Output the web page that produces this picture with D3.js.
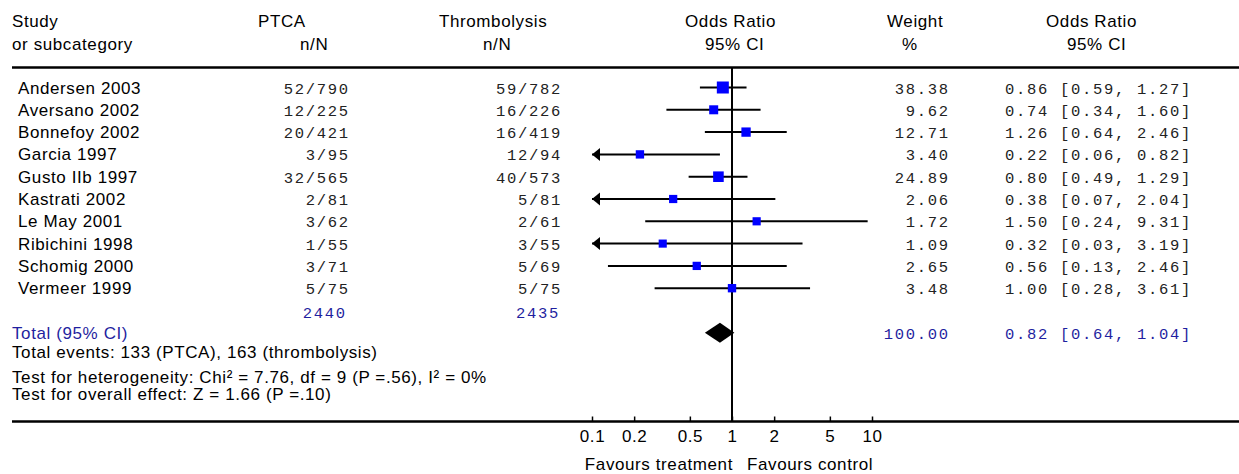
<!DOCTYPE html>
<html>
<head>
<meta charset="utf-8">
<script src="https://cdnjs.cloudflare.com/ajax/libs/d3/7.8.5/d3.min.js"></script>
<style>
  body { margin: 0; background: #fff; }
  svg { display: block; }
  .sans { font-family: "Liberation Sans", Arial, sans-serif; font-size: 17px; letter-spacing: 0.6px; }
  .mono { font-family: "Liberation Mono", "Courier New", monospace; font-size: 15.5px; letter-spacing: 1.7px; fill: #222; }
  .blue { fill: #1f1fa0; }
</style>
</head>
<body>
<svg id="chart"></svg>
<script>
'use strict';
(function() {
  // study rows
  var studies = ["Andersen 2003", "Aversano 2002", "Bonnefoy 2002", "Garcia 1997", "Gusto IIb 1997",
    "Kastrati 2002", "Le May 2001", "Ribichini 1998", "Schomig 2000", "Vermeer 1999"];
  var ptca = ["52/790", "12/225", "20/421", "3/95", "32/565", "2/81", "3/62", "1/55", "3/71", "5/75"];
  var thrombolysis = ["59/782", "16/226", "16/419", "12/94", "40/573", "5/81", "2/61", "3/55", "5/69", "5/75"];
  var weights = [38.38, 9.62, 12.71, 3.40, 24.89, 2.06, 1.72, 1.09, 2.65, 3.48];
  var oddsRatio = [0.86, 0.74, 1.26, 0.22, 0.80, 0.38, 1.50, 0.32, 0.56, 1.00];
  var ciLower = [0.59, 0.34, 0.64, 0.06, 0.49, 0.07, 0.24, 0.03, 0.13, 0.28];
  var ciUpper = [1.27, 1.60, 2.46, 0.82, 1.29, 2.04, 9.31, 3.19, 2.46, 3.61];

  // pooled result
  var totalN = ["2440", "2435"];
  var totalWeight = 100;
  var totalOR = [0.82, 0.64, 1.04];
  var footnotes = [
    "Total events: 133 (PTCA), 163 (thrombolysis)",
    "Test for heterogeneity: Chi\u00b2 = 7.76, df = 9 (P =.56), I\u00b2 = 0%",
    "Test for overall effect: Z = 1.66 (P =.10)"
  ];
  var tickValues = [0.1, 0.2, 0.5, 1, 2, 5, 10];

  var width = 1239, height = 474;
  var svg = d3.select("#chart").attr("width", width).attr("height", height);

  var x = d3.scaleLog().domain([0.1, 10]).range([592, 872]);
  var y = d3.scalePoint().domain(studies).range([87.5, 288.2]);
  var size = d3.scaleLinear().domain([0, d3.max(weights)]).range([8, 12]);
  var fmt = d3.format(".2f");

  var headerY = 67.5, axisY = 421.5, totalY = 332.7;

  // headers
  var header = [
    ["Study", 12, 27.3], ["or subcategory", 12, 49.8],
    ["PTCA", 258, 27.3], ["n/N", 300, 49.8],
    ["Thrombolysis", 439, 27.3], ["n/N", 483, 49.8],
    ["Odds Ratio", 685, 27.3], ["95% CI", 705, 49.8],
    ["Weight", 887, 27.3], ["%", 902, 49.8],
    ["Odds Ratio", 1046, 27.3], ["95% CI", 1067, 49.8]
  ];
  svg.append("g").selectAll("text").data(header).enter().append("text")
    .attr("class", "sans")
    .attr("x", function(d) { return d[1]; })
    .attr("y", function(d) { return d[2]; })
    .text(function(d) { return d[0]; });

  svg.append("line").attr("x1", 12).attr("x2", width).attr("y1", headerY).attr("y2", headerY)
    .attr("stroke", "#000").attr("stroke-width", 2.5);
  svg.append("line").attr("x1", 12).attr("x2", width).attr("y1", axisY).attr("y2", axisY)
    .attr("stroke", "#000").attr("stroke-width", 2.5);
  // line of no effect
  svg.append("line").attr("x1", x(1)).attr("x2", x(1)).attr("y1", headerY).attr("y2", axisY)
    .attr("stroke", "#000").attr("stroke-width", 2);

  var rows = svg.append("g").selectAll("g").data(studies).enter().append("g")
    .attr("transform", function(d) { return "translate(0," + y(d) + ")"; });

  rows.append("text").attr("class", "sans").attr("x", 18).attr("y", 6)
    .text(function(d) { return d; });
  rows.append("text").attr("class", "mono").attr("x", 349.7).attr("y", 6).attr("text-anchor", "end")
    .text(function(d, i) { return ptca[i]; });
  rows.append("text").attr("class", "mono").attr("x", 562).attr("y", 6).attr("text-anchor", "end")
    .text(function(d, i) { return thrombolysis[i]; });
  rows.append("text").attr("class", "mono").attr("x", 949.7).attr("y", 6).attr("text-anchor", "end")
    .text(function(d, i) { return fmt(weights[i]); });
  rows.append("text").attr("class", "mono").attr("x", 1005).attr("y", 6)
    .text(function(d, i) { return fmt(oddsRatio[i]) + " [" + fmt(ciLower[i]) + ", " + fmt(ciUpper[i]) + "]"; });

  // confidence intervals, clipped to the axis
  rows.append("line")
    .attr("x1", function(d, i) { return x(Math.max(ciLower[i], 0.1)); })
    .attr("x2", function(d, i) { return x(Math.min(ciUpper[i], 10)); })
    .attr("stroke", "#000").attr("stroke-width", 2);
  rows.filter(function(d, i) { return ciLower[i] < 0.1; }).append("path")
    .attr("d", "M" + x(0.1) + ",0l8,-6.5v13z").attr("fill", "#000");
  rows.filter(function(d, i) { return ciUpper[i] > 10; }).append("path")
    .attr("d", "M" + x(10) + ",0l-8,-6.5v13z").attr("fill", "#000");

  rows.append("rect")
    .attr("x", function(d, i) { return x(oddsRatio[i]) - size(weights[i]) / 2; })
    .attr("y", function(d, i) { return -size(weights[i]) / 2; })
    .attr("width", function(d, i) { return size(weights[i]); })
    .attr("height", function(d, i) { return size(weights[i]); })
    .attr("fill", "#0000ff");

  // totals
  svg.append("text").attr("class", "mono blue").attr("x", 346.7).attr("y", 318.3).attr("text-anchor", "end").text(totalN[0]);
  svg.append("text").attr("class", "mono blue").attr("x", 560).attr("y", 318.3).attr("text-anchor", "end").text(totalN[1]);
  svg.append("text").attr("class", "sans blue").attr("x", 12).attr("y", totalY + 6.3).text("Total (95% CI)");
  svg.append("text").attr("class", "mono blue").attr("x", 949.7).attr("y", totalY + 6).attr("text-anchor", "end")
    .text(fmt(totalWeight));
  svg.append("text").attr("class", "mono blue").attr("x", 1005).attr("y", totalY + 6)
    .text(fmt(totalOR[0]) + " [" + fmt(totalOR[1]) + ", " + fmt(totalOR[2]) + "]");
  svg.append("path")
    .attr("d", "M" + x(totalOR[1]) + "," + totalY + "L" + x(totalOR[0]) + "," + (totalY - 10) +
      "L" + x(totalOR[2]) + "," + totalY + "L" + x(totalOR[0]) + "," + (totalY + 10) + "Z")
    .attr("fill", "#000");

  svg.append("g").selectAll("text").data(footnotes).enter().append("text")
    .attr("class", "sans").attr("x", 12)
    .attr("y", function(d, i) { return [358, 382.8, 400][i]; })
    .text(function(d) { return d; });

  // log axis
  var axis = svg.append("g")
    .attr("transform", "translate(0," + axisY + ")")
    .call(d3.axisBottom(x).tickValues(tickValues).tickFormat(function(d) { return String(d); })
      .tickSizeInner(-5).tickSizeOuter(0).tickPadding(8));
  axis.select(".domain").remove();
  axis.selectAll(".tick line").attr("stroke", "#000").attr("stroke-width", 1.5);
  axis.selectAll(".tick text").attr("class", "sans").attr("fill", "#000");
  axis.attr("font-size", null).attr("font-family", null);

  svg.append("text").attr("class", "sans").attr("x", 733).attr("y", 470).attr("text-anchor", "end").text("Favours treatment");
  svg.append("text").attr("class", "sans").attr("x", 747).attr("y", 470).text("Favours control");
})()
</script>
</body>
</html>
